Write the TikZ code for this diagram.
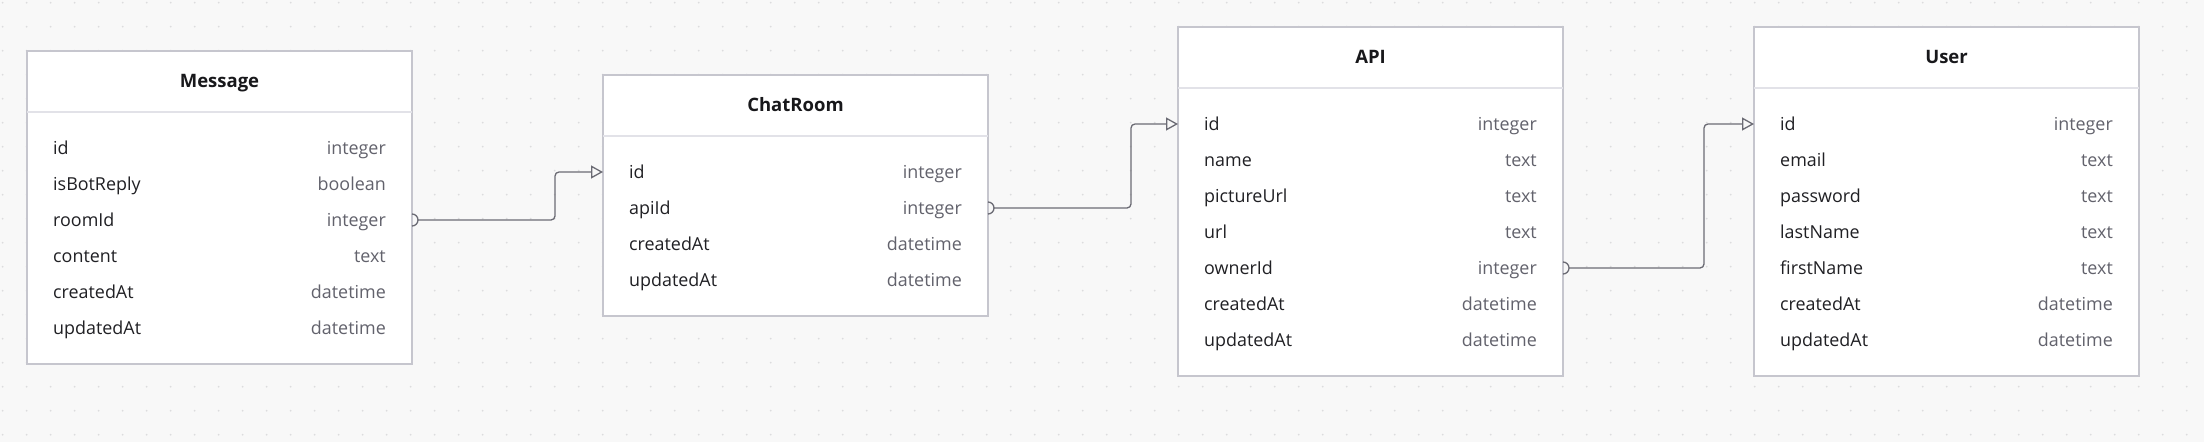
\documentclass[tikz,border=0pt]{standalone}
\usepackage{fontspec}
\setmainfont{Open Sans}
\usetikzlibrary{arrows.meta,calc}
\definecolor{bgcol}{HTML}{F8F8F8}
\definecolor{dotcol}{HTML}{DCDCDE}
\definecolor{boxline}{HTML}{C6C6CE}
\definecolor{sepcol}{HTML}{E2E2E8}
\definecolor{fieldcol}{HTML}{202024}
\definecolor{typecol}{HTML}{62626C}
\definecolor{titlecol}{HTML}{18181B}
\definecolor{conncol}{HTML}{6B6B74}
\tikzset{
  tabbox/.style={draw=boxline, line width=1.4pt, fill=white, anchor=north west,
    minimum width=385pt, inner sep=0pt, outer sep=0pt},
  sepline/.style={draw=sepcol, line width=1.2pt},
  titletext/.style={font=\fontsize{18.5}{22}\selectfont\bfseries, text=titlecol,
    inner sep=0pt, text height=12.6pt, text depth=0pt},
  fieldtext/.style={font=\fontsize{17.9}{21}\selectfont, text=fieldcol,
    inner sep=0pt, text height=13pt, text depth=0pt},
  typetext/.style={font=\fontsize{17.9}{21}\selectfont, text=typecol,
    inner sep=0pt, text height=13pt, text depth=0pt},
  conn/.style={draw=conncol, line width=1.3pt, rounded corners=4pt},
  opentip/.style={-{Triangle[open, length=12pt, width=13pt, line width=1.3pt]}},
  optend/.style={draw=conncol, line width=1.3pt}
}
\newcommand\ertab[6]{%
  \node[tabbox, minimum height={(61+36*(#4+1))*1pt}] (#1) at (#2,#3) {};
  \draw[sepline] ([yshift=-61pt]#1.north west) -- ([yshift=-61pt]#1.north east);
  \node[titletext] (#1-title) at ([yshift=-30.5pt]#1.north) {#5};
  \foreach \f/\t [count=\k] in {#6} {
    \node[fieldtext, anchor=west] (#1-\f) at ([xshift=26pt, yshift={-(61+36*\k)*1pt}]#1.north west) {\f};
    \node[typetext, anchor=east] (#1-\f-type) at ([xshift=-26pt, yshift={-(61+36*\k)*1pt}]#1.north east) {\t};
    \coordinate (#1-\f-L) at (#1.west |- #1-\f);
    \coordinate (#1-\f-R) at (#1.east |- #1-\f);
  }%
}
\begin{document}
\begin{tikzpicture}[x=1pt, y=-1pt]
\useasboundingbox (0,0) rectangle (2204,442);
\fill[bgcol] (0,0) rectangle (2204,442);
\foreach \i in {0,...,91} {
  \foreach \j in {0,...,18} {
    \fill[dotcol] (2.7+24*\i, 2.7+24*\j) circle[radius=1pt];
  }
}
\ertab{msg}{27}{51}{6}{Message}{id/integer, isBotReply/boolean, roomId/integer, content/text, createdAt/datetime, updatedAt/datetime}
\ertab{chat}{603}{75}{4}{ChatRoom}{id/integer, apiId/integer, createdAt/datetime, updatedAt/datetime}
\ertab{api}{1178}{27}{7}{API}{id/integer, name/text, pictureUrl/text, url/text, ownerId/integer, createdAt/datetime, updatedAt/datetime}
\ertab{user}{1754}{27}{7}{User}{id/integer, email/text, password/text, lastName/text, firstName/text, createdAt/datetime, updatedAt/datetime}
% connector bends
\coordinate (b1) at (555, 0);
\coordinate (b2) at (1131, 0);
\coordinate (b3) at (1704, 0);
% Message.roomId -> ChatRoom.id
\draw[optend] ([yshift=6pt]msg-roomId-R) arc[start angle=90, end angle=-90, radius=6pt];
\draw[conn, opentip] ([xshift=6pt]msg-roomId-R) -| (b1 |- chat-id-L) -- (chat-id-L);
% ChatRoom.apiId -> API.id
\draw[optend] ([yshift=6pt]chat-apiId-R) arc[start angle=90, end angle=-90, radius=6pt];
\draw[conn, opentip] ([xshift=6pt]chat-apiId-R) -| (b2 |- api-id-L) -- (api-id-L);
% API.ownerId -> User.id
\draw[optend] ([yshift=6pt]api-ownerId-R) arc[start angle=90, end angle=-90, radius=6pt];
\draw[conn, opentip] ([xshift=6pt]api-ownerId-R) -| (b3 |- user-id-L) -- (user-id-L);
\end{tikzpicture}
\end{document}
